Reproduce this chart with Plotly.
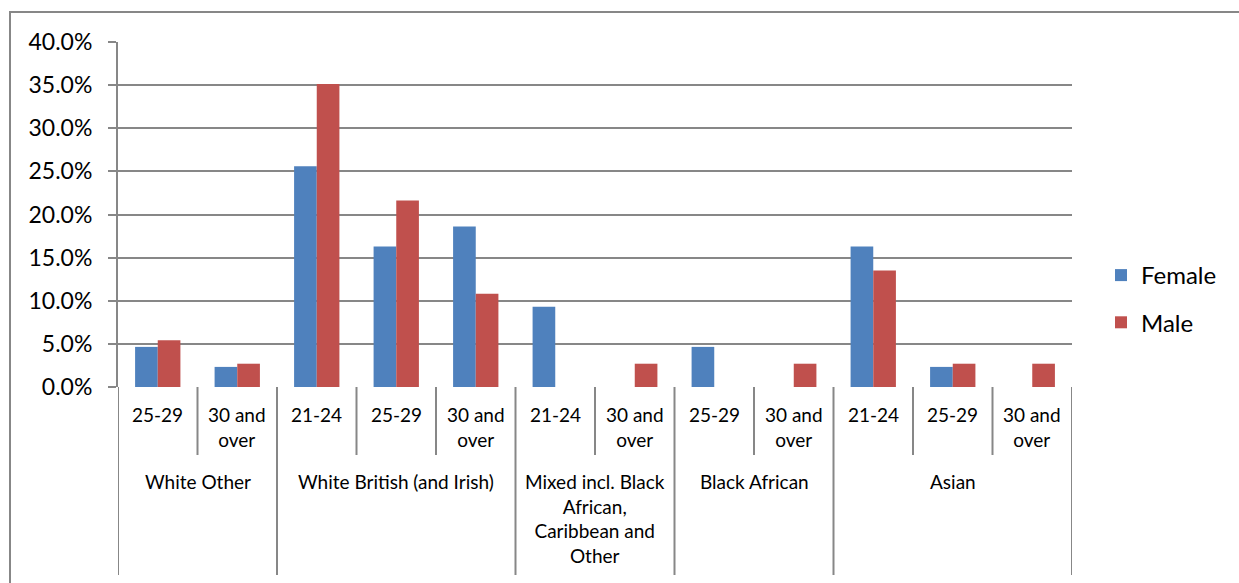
import plotly.graph_objects as go

# ---- data ----
groups = ["White Other", "White British (and Irish)",
          "Mixed incl. Black<br>African,<br>Caribbean and<br>Other",
          "Black African", "Asian"]
group_sizes = [2, 3, 2, 2, 3]
age_labels = ["25-29", "30 and<br>over",
              "21-24", "25-29", "30 and<br>over",
              "21-24", "30 and<br>over",
              "25-29", "30 and<br>over",
              "21-24", "25-29", "30 and<br>over"]
female = [0.0465, 0.0233, 0.2558, 0.1628, 0.1860, 0.0930, 0.0, 0.0465, 0.0, 0.1628, 0.0233, 0.0]
male = [0.0541, 0.0270, 0.3514, 0.2162, 0.1081, 0.0, 0.0270, 0.0, 0.0270, 0.1351, 0.0270, 0.0270]
y_ticks = [0, 0.05, 0.10, 0.15, 0.20, 0.25, 0.30, 0.35, 0.40]

FONT = "Lato"
GRID = "#878787"
W, H = 1239, 583
L, R, T, B = 118, 1072, 42, 387
plot_h = B - T

def py(pix):
    return (B - pix) / plot_h

def px(pix):
    return (pix - L) / (R - L)

x = list(range(len(age_labels)))

fig = go.Figure()
fig.add_trace(go.Bar(x=x, y=female, name="Female", marker_color="#4F81BD",
                     marker_line_width=0, legendgroup="f"))
fig.add_trace(go.Bar(x=x, y=male, name="Male", marker_color="#C0504D",
                     marker_line_width=0, legendgroup="m"))

shapes = []
annotations = []

# outer chart border
shapes.append(dict(type="rect", xref="paper", yref="paper",
                   x0=px(10), x1=px(1300), y0=py(12), y1=py(600),
                   line=dict(color=GRID, width=2), fillcolor="rgba(0,0,0,0)", layer="below"))

# category separators
boundaries = set()
pos = -0.5
boundaries.add(pos)
for s in group_sizes:
    pos += s
    boundaries.add(pos)
for i in range(len(age_labels) + 1):
    b = i - 0.5
    y_end = py(575) if b in boundaries else py(455)
    shapes.append(dict(type="line", xref="x", yref="paper", x0=b, x1=b,
                       y0=0, y1=y_end, line=dict(color=GRID, width=2)))

# age labels
for i, lab in enumerate(age_labels):
    annotations.append(dict(x=i, y=py(401), xref="x", yref="paper", text=lab,
                            showarrow=False, yanchor="top", xanchor="center",
                            font=dict(family=FONT, size=19, color="black")))
# group labels
pos = -0.5
for g, s in zip(groups, group_sizes):
    annotations.append(dict(x=pos + s / 2, y=py(468), xref="x", yref="paper", text=g,
                            showarrow=False, yanchor="top", xanchor="center",
                            font=dict(family=FONT, size=19, color="black")))
    pos += s

fig.update_layout(
    width=W, height=H,
    margin=dict(l=L, r=W - R, t=T, b=H - B, pad=0, autoexpand=False),
    paper_bgcolor="white", plot_bgcolor="white",
    barmode="group", bargap=0.43, bargroupgap=0,
    font=dict(family=FONT, color="black"),
    xaxis=dict(range=[-0.5, len(age_labels) - 0.5], showticklabels=False,
               showgrid=False, zeroline=False, showline=False, ticks=""),
    yaxis=dict(range=[0, 0.4], tickvals=y_ticks, tickformat=".1%",
               showgrid=True, gridcolor=GRID, gridwidth=2,
               showline=True, linecolor=GRID, linewidth=2,
               ticks="outside", ticklen=8, tickcolor=GRID, tickwidth=2,
               zeroline=False, tickfont=dict(family=FONT, size=23, color="black"),
               ticklabelstandoff=11),
    legend=dict(x=px(1101), y=py(299), xref="paper", yref="paper",
                xanchor="left", yanchor="middle",
                font=dict(family=FONT, size=24, color="black"),
                itemwidth=30, tracegroupgap=13),
    shapes=shapes, annotations=annotations,
    showlegend=True,
)

fig.write_html("out.html")
